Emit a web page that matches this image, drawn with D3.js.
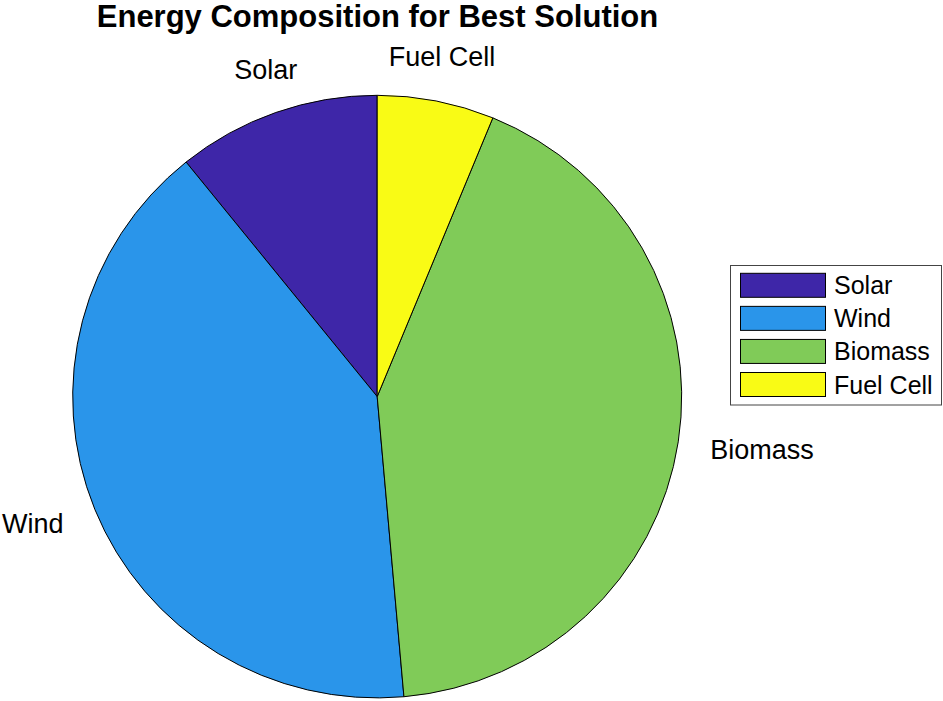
<!DOCTYPE html>
<html>
<head>
<meta charset="utf-8">
<script src="https://cdn.jsdelivr.net/npm/d3@7/dist/d3.min.js"></script>
<style>
  html, body { margin: 0; padding: 0; background: #fff; }
  svg { display: block; font-family: "Liberation Sans", Arial, Helvetica, sans-serif; }
</style>
</head>
<body>
<svg id="chart" width="943" height="701"></svg>
<script>
// Data (percent shares)
const categories = ["Solar", "Wind", "Biomass", "Fuel Cell"];
const values = [10.8, 40.6, 42.4, 6.2];
const colors = ["#3E26A8", "#2A95EA", "#80CB58", "#F9FB15"];
const title = "Energy Composition for Best Solution";

const svg = d3.select("#chart");
const cx = 377.2, cy = 396.6, rx = 304.5, ry = 301.3;
const labelFs = 27;

svg.append("text")
  .attr("x", 377.5).attr("y", 27)
  .attr("text-anchor", "middle")
  .attr("font-weight", "bold")
  .attr("font-size", 31)
  .attr("fill", "#000")
  .text(title);

const pie = d3.pie().sort(null).value(d => d).startAngle(0).endAngle(-2 * Math.PI);
const arcs = pie(values);
const arc = d3.arc().innerRadius(0).outerRadius(ry);

const g = svg.append("g")
  .attr("transform", `translate(${cx},${cy}) scale(${rx / ry},1)`);

g.selectAll("path")
  .data(arcs)
  .join("path")
  .attr("d", arc)
  .attr("fill", (d, i) => colors[i])
  .attr("stroke", "#000")
  .attr("stroke-width", 1)
  .attr("vector-effect", "non-scaling-stroke");

// Labels at 1.1 radius of mid angle
arcs.forEach((d, i) => {
  const a = (d.startAngle + d.endAngle) / 2;
  const s = Math.sin(a), c = Math.cos(a);
  let x = cx + 1.1 * rx * s;
  let y = cy - 1.1 * ry * c;
  let anchor = "middle";
  let baseline;
  if (Math.abs(c) >= Math.SQRT1_2) {
    anchor = "middle";
    baseline = c > 0 ? y - 5.5 : y + labelFs * 0.72 + 4;
  } else {
    anchor = s > 0 ? "start" : "end";
    x += s > 0 ? 2 : -3;
    baseline = y + labelFs * 0.36 + 2.5;
  }
  svg.append("text")
    .attr("x", x).attr("y", baseline)
    .attr("text-anchor", anchor)
    .attr("font-size", labelFs)
    .attr("fill", "#000")
    .text(categories[i]);
});

// Legend
const legend = svg.append("g");
legend.append("rect")
  .attr("x", 730.5).attr("y", 265.5)
  .attr("width", 211).attr("height", 139.5)
  .attr("fill", "#fff")
  .attr("stroke", "#444").attr("stroke-width", 1);

const rowY = d3.scalePoint().domain(categories).range([285.3, 384.5]);
categories.forEach((cat, i) => {
  const y = rowY(cat);
  legend.append("rect")
    .attr("x", 740.5).attr("y", y - 12)
    .attr("width", 85).attr("height", 24)
    .attr("fill", colors[i])
    .attr("stroke", "#000").attr("stroke-width", 1);
  legend.append("text")
    .attr("x", 834).attr("y", y + 9)
    .attr("font-size", 25)
    .attr("fill", "#000")
    .text(cat);
});
</script>
</body>
</html>
